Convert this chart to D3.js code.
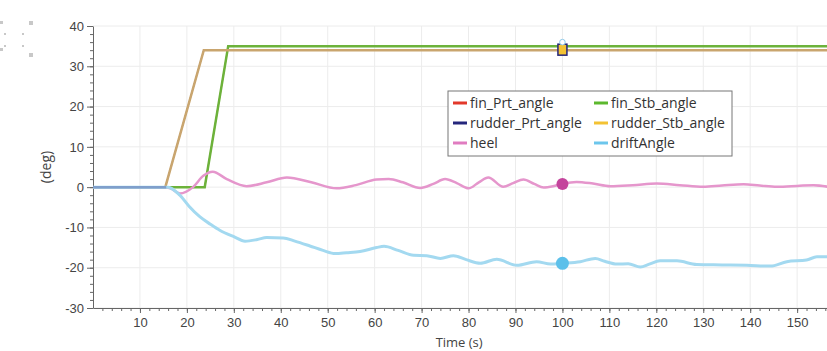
<!DOCTYPE html>
<html>
<head>
<meta charset="utf-8">
<script src="https://cdn.jsdelivr.net/npm/d3@7"></script>
<style>
  body { margin: 0; background: #fff; }
  svg { display: block; font-family: "Open Sans", "Noto Sans", sans-serif; }
  .axis path, .axis line { stroke: #666; }
  .axis text { fill: #444; font-size: 13px; }
</style>
</head>
<body>
<div id="chart"></div>
<script>
// series
var finTime = [0, 23.8, 28.8, 157];
var finAngle = [0, 0, 35, 35];
var rudderTime = [0, 15.4, 23.6, 157];
var rudderAngle = [0, 0, 34, 34];

var heelTime = [0, 15, 16.5, 18.5, 21.3, 23.5, 25.5, 28.5, 32.7, 37, 41.3, 46.5, 51.9, 56, 60.4, 63, 66, 69.7, 72.5, 75, 77.5, 80, 82.2, 84.2, 87.4, 89.5, 91.7, 94, 96, 98, 100, 103, 106.5, 110.2, 115, 120.1, 125, 130, 134, 138.6, 142, 145.7, 150, 153.5, 157];
var heel = [0, 0, -0.3, -1.6, 0, 2.8, 3.8, 2, 0.25, 1.2, 2.4, 1.2, -0.3, 0.5, 1.9, 2.0, 1.2, -0.2, 0.8, 2, 1, -0.3, 1.2, 2.4, 0.1, 1, 1.9, 0.8, -0.1, 0.2, 0.8, 1.3, 0.9, 0.25, 0.5, 0.9, 0.5, 0.1, 0.4, 0.7, 0.4, 0.1, 0.3, 0.5, 0];

var driftTime = [0, 16, 18.5, 20.5, 22.8, 25, 27, 30, 32.4, 35, 37, 40.5, 43, 46.2, 49, 51.6, 54, 56.9, 60.4, 62, 65, 68.3, 71.1, 74, 76.8, 79.5, 82.5, 86, 90.3, 94.5, 97.5, 100, 103.8, 107, 109, 111.6, 114, 116.6, 118.5, 120.8, 124.4, 128.6, 134, 139.3, 144.3, 147.8, 152, 154.2, 157];
var drift = [0, 0, -2, -4.8, -7.4, -9.2, -10.7, -12.3, -13.4, -13, -12.5, -12.6, -13.4, -14.6, -15.7, -16.5, -16.3, -16, -15, -14.7, -15.7, -16.9, -17, -17.7, -17, -18, -18.9, -17.9, -19.4, -18.5, -19.1, -18.9, -18.5, -17.7, -18.4, -19.1, -19, -19.8, -19.1, -18.3, -18.3, -19.2, -19.3, -19.4, -19.6, -18.5, -18.1, -17.3, -17.3];

var seriesNames = ["fin_Prt_angle", "fin_Stb_angle", "rudder_Prt_angle", "rudder_Stb_angle", "heel", "driftAngle"];
var legendColors = ["#e2392b", "#5cb82e", "#25267c", "#f3c233", "#e07cc0", "#6cc6ec"];
var xTicks = [10, 20, 30, 40, 50, 60, 70, 80, 90, 100, 110, 120, 130, 140, 150];
var yTicks = [-30, -20, -10, 0, 10, 20, 30, 40];
var cursorTime = 100;
var cursorValues = {fin: 35, rudder: 34, heel: 0.8, drift: -18.9};

var W = 827, H = 351;
var margin = {top: 26, left: 93};
var plotH = 282;

var svg = d3.select("#chart").append("svg")
    .attr("width", W)
    .attr("height", H);

var x = d3.scaleLinear().domain([0, 157]).range([margin.left, 830]);
var y = d3.scaleLinear().domain([-30, 40]).range([margin.top + plotH, margin.top]);

// little toolbar dots top left
[[0, 21, 3], [29, 21, 4], [4, 33, 2], [22, 33, 2], [0, 48, 3], [29, 53, 4], [4, 45, 2], [22, 45, 2]].forEach(function(p) {
  svg.append("rect").attr("x", p[0]).attr("y", p[1]).attr("width", p[2]).attr("height", p[2]).attr("fill", "#c8c8c8");
});

// grid
svg.append("g").selectAll("line").data(xTicks).enter().append("line")
    .attr("x1", d => x(d)).attr("x2", d => x(d))
    .attr("y1", y(40)).attr("y2", y(-30))
    .attr("stroke", "#ececec");
svg.append("g").selectAll("line").data(yTicks).enter().append("line")
    .attr("x1", x(0)).attr("x2", W)
    .attr("y1", d => y(d)).attr("y2", d => y(d))
    .attr("stroke", "#ececec");

// axes (plain hyphen minus like the original)
var fmt = d => String(d);
var xAxis = svg.append("g").attr("class", "axis")
    .attr("transform", "translate(0," + y(-30) + ")")
    .call(d3.axisBottom(x).tickValues(d3.range(2, 157, 2)).tickSize(3).tickFormat(""));
xAxis.select(".domain").remove();
svg.append("g").attr("class", "axis")
    .attr("transform", "translate(0," + y(-30) + ")")
    .call(d3.axisBottom(x).tickValues(xTicks).tickSize(5).tickPadding(5).tickSizeOuter(0).tickFormat(fmt));

var yAxis = svg.append("g").attr("class", "axis")
    .attr("transform", "translate(" + x(0) + ",0)")
    .call(d3.axisLeft(y).tickValues(d3.range(-30, 41, 2)).tickSize(3).tickFormat(""));
yAxis.select(".domain").remove();
svg.append("g").attr("class", "axis")
    .attr("transform", "translate(" + x(0) + ",0)")
    .call(d3.axisLeft(y).tickValues(yTicks).tickSize(6).tickPadding(3).tickSizeOuter(0).tickFormat(fmt));

svg.append("text")
    .attr("transform", "translate(51," + y(5) + ")rotate(-90)")
    .attr("text-anchor", "middle")
    .attr("fill", "#444")
    .style("font-size", "14px")
    .text("(deg)");

svg.append("text")
    .attr("x", x(78))
    .attr("y", 347)
    .attr("text-anchor", "middle")
    .attr("fill", "#444")
    .style("font-size", "13px")
    .text("Time (s)");

// lines
var plot = svg.append("g");
function pairs(ts, vs) { return ts.map((t, i) => [t, vs[i]]); }
var straight = d3.line().x(d => x(d[0])).y(d => y(d[1]));
var smooth = d3.line().x(d => x(d[0])).y(d => y(d[1])).curve(d3.curveMonotoneX);

// port lines sit under the starboard ones
plot.append("path").datum(pairs(finTime, finAngle)).attr("d", straight)
    .attr("fill", "none").attr("stroke", legendColors[0]).attr("stroke-width", 1.2);
plot.append("path").datum(pairs(rudderTime, rudderAngle)).attr("d", straight)
    .attr("fill", "none").attr("stroke", legendColors[2]).attr("stroke-width", 1.2);
plot.append("path").datum(pairs(finTime, finAngle)).attr("d", straight)
    .attr("fill", "none").attr("stroke", "#6cb23a").attr("stroke-width", 2.5);
plot.append("path").datum(pairs(rudderTime, rudderAngle)).attr("d", straight)
    .attr("fill", "none").attr("stroke", "#c9a56e").attr("stroke-width", 2.5);
plot.append("path").datum(pairs(heelTime, heel)).attr("d", smooth)
    .attr("fill", "none").attr("stroke", "#e596cc").attr("stroke-width", 2.5);
plot.append("path").datum(pairs(driftTime, drift)).attr("d", smooth)
    .attr("fill", "none").attr("stroke", "#a3d9f0").attr("stroke-width", 3);
plot.append("path").datum(pairs([0, 15.6], [0, 0])).attr("d", straight)
    .attr("fill", "none").attr("stroke", "#7f9fcc").attr("stroke-width", 2.5);

// cursor markers
var cx = x(cursorTime);
svg.append("rect")
    .attr("x", cx - 4.5).attr("y", y(cursorValues.rudder) - 6)
    .attr("width", 9).attr("height", 11)
    .attr("fill", legendColors[3]).attr("stroke", legendColors[2]).attr("stroke-width", 1.5);
svg.append("circle").attr("cx", cx).attr("cy", y(cursorValues.fin) - 4).attr("r", 2.8)
    .attr("fill", "#fff").attr("stroke", "#8cc8e8").attr("stroke-width", 1);
svg.append("circle").attr("cx", cx).attr("cy", y(cursorValues.heel)).attr("r", 6)
    .attr("fill", "#c4449c");
svg.append("circle").attr("cx", cx).attr("cy", y(cursorValues.drift)).attr("r", 6.5)
    .attr("fill", "#5cc0ea");

// legend
var legend = svg.append("g").attr("transform", "translate(448,91)");
legend.append("rect").attr("width", 284).attr("height", 65)
    .attr("fill", "#fff").attr("stroke", "#777").attr("stroke-width", 1);
seriesNames.forEach(function(name, i) {
  var col = i % 2, row = Math.floor(i / 2);
  var g = legend.append("g").attr("transform", "translate(" + (5 + col * 141) + "," + (12 + row * 20) + ")");
  g.append("line").attr("x1", 0).attr("x2", 14).attr("y1", 0).attr("y2", 0)
      .attr("stroke", legendColors[i]).attr("stroke-width", 3);
  g.append("text").attr("x", 17).attr("y", 5).attr("fill", "#333")
      .style("font-size", "14px").text(name);
});
</script>
</body>
</html>
